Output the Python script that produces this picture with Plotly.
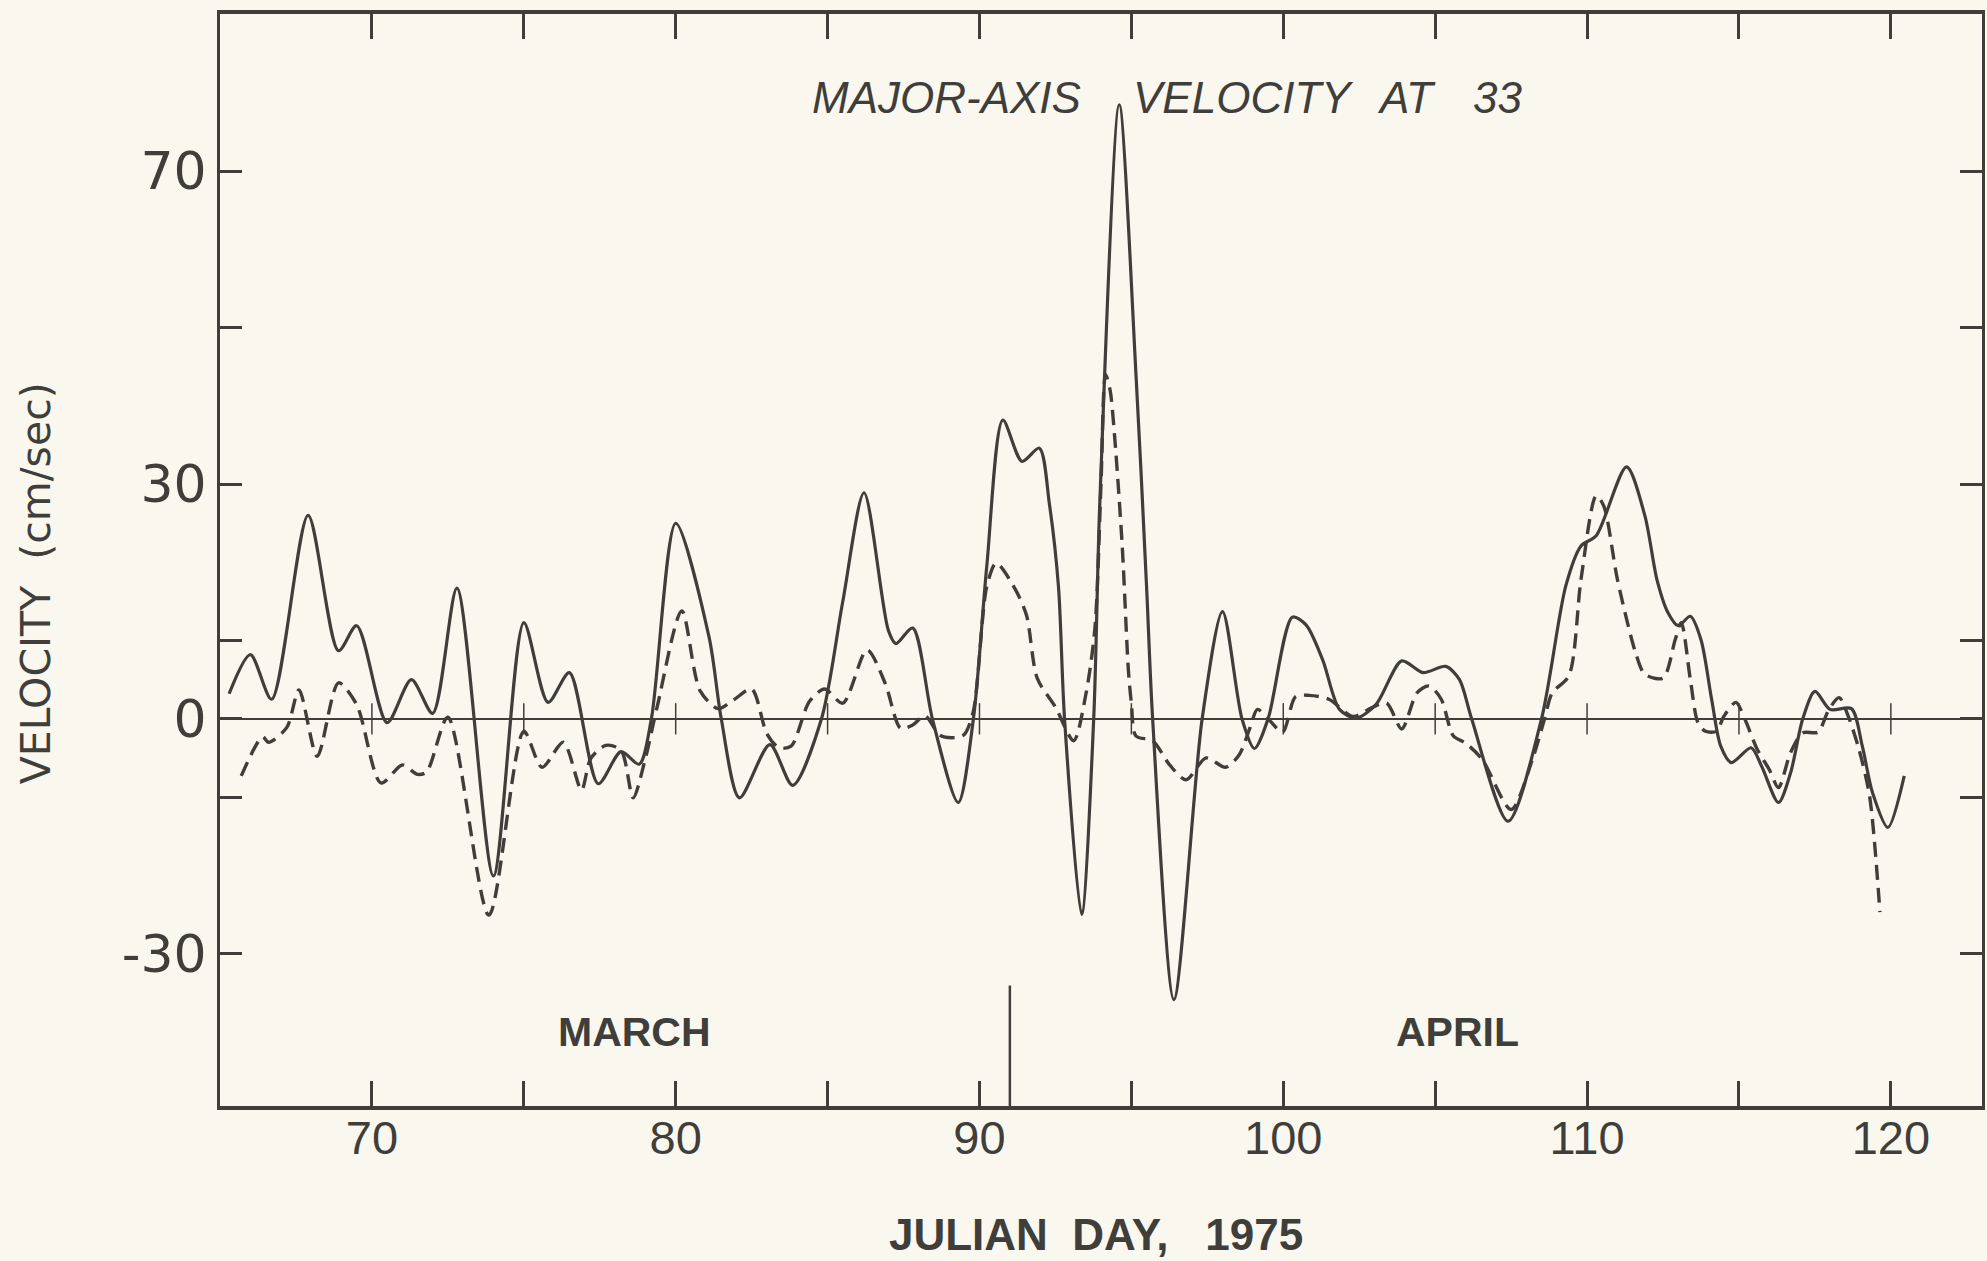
import plotly.graph_objects as go

# ---------------- data ----------------
solid_day = [65.3, 66.0, 66.7, 67.9, 68.9, 69.5, 70.5, 71.3, 72.0, 72.8, 74.0, 75.0, 75.8, 76.5,
             77.45, 78.2, 78.8, 79.2, 80.0, 81.1, 81.5, 82.1, 83.1, 83.85, 84.8, 85.5, 86.2, 87.0,
             87.25, 87.8, 88.45, 89.3, 89.8, 90.24, 90.77, 91.4, 91.97, 92.3, 92.6, 92.8, 93.36,
             93.76, 93.96, 94.6, 95.16, 95.5, 95.7, 96.4, 97.33, 98.0, 98.64, 99.05, 99.5, 100.3,
             100.75, 101.3, 101.85, 102.4, 103.05, 103.9, 104.6, 105.35, 105.8, 106.2, 107.4,
             108.5, 109.3, 109.8, 110.3, 111.3, 111.9, 112.3, 112.66, 113.0, 113.4, 113.75,
             114.1, 114.4, 114.75, 115.4, 115.75, 116.3, 116.7, 117.1, 117.5, 118.0, 118.7,
             119.06, 119.4, 119.9, 120.44]
solid_vel = [3.2, 8.2, 2.5, 26.0, 8.7, 11.9, -0.5, 5.0, 0.7, 16.7, -20.1, 12.3, 2.1, 5.9,
             -8.3, -4.2, -5.8, 0.0, 25.0, 10.4, 0.0, -10.1, -3.3, -8.5, 0.0, 15.0, 28.9, 11.3,
             9.6, 11.6, 0.0, -10.7, 0.0, 19.5, 38.2, 32.9, 34.6, 27.5, 16.9, 0.0, -25.0,
             0.0, 27.5, 78.5, 43.4, 16.9, 0.0, -35.9, 0.0, 13.7, 0.0, -3.8, 0.0, 13.0,
             12.0, 7.5, 1.2, 0.1, 1.8, 7.4, 5.9, 6.7, 5.0, 0.0, -13.1,
             0.0, 17.0, 22.1, 23.4, 32.2, 26.0, 17.8, 13.6, 11.9, 13.1, 10.1,
             2.5, -3.5, -5.6, -3.7, -6.1, -10.7, -6.9, 0.0, 3.5, 1.2, 1.3,
             -3.5, -9.5, -13.9, -7.3]

dashed_day = [65.7, 66.4, 66.6, 67.2, 67.6, 68.2, 68.9, 69.5, 70.3, 71.0, 71.5, 71.8, 72.5,
              73.85, 75.0, 75.6, 76.3, 76.9, 77.2, 77.7, 78.2, 78.6, 79.0, 79.4, 80.2, 80.8,
              81.4, 81.9, 82.5, 83.0, 83.4, 83.8, 84.4, 84.9, 85.5, 86.3, 86.9, 87.4, 87.8,
              88.2, 88.7, 89.2, 89.5, 89.8, 90.24, 90.55, 91.17, 91.55, 91.9, 92.5, 93.1,
              93.5, 93.8, 94.0, 94.15, 94.3, 94.45, 94.7, 94.9, 95.0, 95.15, 95.7, 96.26,
              96.8, 97.46, 98.1, 98.55, 98.9, 99.15, 99.5, 99.98, 100.4, 100.85, 101.5,
              102.3, 102.9, 103.4, 103.9, 104.4, 104.8, 105.2, 105.6, 106.0, 106.55, 107.5,
              108.2, 108.6, 108.85, 109.4, 109.8, 110.3, 110.55, 111.0, 111.6, 111.9, 112.5,
              112.9, 113.1, 113.4, 113.65, 113.9, 114.26, 114.5, 114.9, 115.2, 115.6, 116.0,
              116.3, 116.7, 117.1, 117.6, 117.96, 118.3, 118.6, 118.95, 119.3, 119.64]
dashed_vel = [-7.3, -2.3, -3.0, -1.1, 3.7, -4.8, 4.6, 1.8, -8.2, -5.9, -7.1, -6.8, 0.2,
              -25.1, -1.6, -6.2, -3.0, -9.1, -5.1, -3.4, -4.0, -10.1, -5.1, 1.7, 13.8, 3.6,
              1.3, 2.4, 3.8, -1.9, -3.7, -3.5, 2.2, 3.8, 2.0, 8.8, 4.5, -1.2, -0.8,
              0.4, -2.1, -2.4, -2.0, 1.0, 16.9, 19.9, 16.6, 13.2, 5.2, 1.5, -2.8,
              3.1, 11.6, 30.0, 44.0, 42.0, 36.0, 22.0, 6.3, 2.0, -2.2, -2.8, -5.9,
              -7.8, -5.0, -6.2, -4.6, -1.2, 1.2, 0.0, -1.7, 2.8, 3.0, 2.5,
              0.3, 1.4, 2.0, -1.3, 3.3, 4.2, 2.5, -2.2, -3.1, -5.2, -11.6,
              -5.2, 0.0, 3.3, 5.5, 17.8, 28.5, 27.2, 17.8, 8.4, 5.7, 5.2,
              10.1, 12.3, 5.0, -0.5, -1.6, -1.6, 0.3, 2.1, -0.1, -3.9, -6.5,
              -8.8, -4.3, -1.8, -1.7, 1.2, 2.7, 0.3, -3.9, -9.9, -24.7]

x_tick_days = [70, 75, 80, 85, 90, 95, 100, 105, 110, 115, 120]
x_tick_text = ["70", "", "80", "", "90", "", "100", "", "110", "", "120"]
y_tick_vals = [-30, -10, 0, 10, 30, 50, 70]
y_tick_text = ["-30", "", "0", "", "30", "", "70"]
zero_tick_days = [70, 75, 80, 85, 90, 95, 100, 105, 110, 115, 120]
month_boundary_day = 91
months = ["MARCH", "APRIL"]
month_label_days = [78.66, 105.72]

X_RANGE = [65, 123]
Y_RANGE = [-49.5, 90.1]

INK = "#403e3b"
BG = "#faf8ee"

fig = go.Figure()

fig.add_trace(go.Scatter(x=solid_day, y=solid_vel, mode="lines",
                         line=dict(color=INK, width=3.2, shape="spline", smoothing=0.8),
                         hoverinfo="skip"))
fig.add_trace(go.Scatter(x=dashed_day, y=dashed_vel, mode="lines",
                         line=dict(color=INK, width=3.4, shape="spline", smoothing=0.8,
                                   dash="15px,8px"),
                         hoverinfo="skip"))

# small day ticks across the zero line
zx, zy = [], []
for d in zero_tick_days:
    zx += [d, d, None]
    zy += [-2.0, 2.0, None]
fig.add_trace(go.Scatter(x=zx, y=zy, mode="lines", line=dict(color=INK, width=1.5),
                         hoverinfo="skip"))

# month boundary
fig.add_trace(go.Scatter(x=[month_boundary_day, month_boundary_day], y=[Y_RANGE[0], -34.1],
                         mode="lines", line=dict(color=INK, width=2.5), hoverinfo="skip"))

ann = []
for name, d in zip(months, month_label_days):
    ann.append(dict(x=d, y=-40.0, xref="x", yref="y", text=name, showarrow=False,
                    font=dict(family="Liberation Sans Narrow, Arial Narrow, Liberation Sans, sans-serif",
                              size=41, color=INK, weight="bold")))

title_words = ["MAJOR-AXIS", "VELOCITY", "AT", "33"]
title_days = [88.91, 98.67, 104.04, 107.06]
for w, d in zip(title_words, title_days):
    ann.append(dict(x=d, y=79.4, xref="x", yref="y", text=w, showarrow=False,
                    font=dict(family="Liberation Sans, Arial, sans-serif", size=44,
                              color=INK, style="italic", weight=500)))

ann.append(dict(x=93.82, y=-0.1175, xref="x", yref="paper", yanchor="middle",
                text="JULIAN\u00a0\u00a0DAY,\u00a0\u00a0 1975", showarrow=False,
                font=dict(family="Liberation Sans Narrow, Arial Narrow, Liberation Sans, sans-serif",
                          size=44, color=INK, weight="bold")))
ann.append(dict(x=-0.104, y=17.3, xref="paper", yref="y", xanchor="center",
                text="VELOCITY\u00a0\u00a0(cm/sec)", textangle=-90, showarrow=False,
                font=dict(family="DejaVu Sans, sans-serif", size=41, color=INK)))

fig.update_layout(
    width=1987, height=1261,
    margin=dict(l=220, r=2, t=14, b=155, pad=0),
    paper_bgcolor=BG, plot_bgcolor=BG,
    showlegend=False,
    annotations=ann,
    xaxis=dict(range=X_RANGE, tickvals=x_tick_days, ticktext=x_tick_text,
               ticks="inside", ticklen=25, tickwidth=2.5, tickcolor=INK,
               showline=True, linecolor=INK, linewidth=4, mirror="ticks",
               showgrid=False, zeroline=False, ticklabelstandoff=-12,
               tickfont=dict(family="Liberation Sans, Arial, sans-serif", size=47, color=INK)),
    yaxis=dict(range=Y_RANGE, tickvals=y_tick_vals, ticktext=y_tick_text,
               ticks="inside", ticklen=22, tickwidth=3, tickcolor=INK,
               showline=True, linecolor=INK, linewidth=3, mirror="ticks",
               showgrid=False, zeroline=True, zerolinecolor=INK, zerolinewidth=2,
               tickfont=dict(family="DejaVu Sans, sans-serif", size=52, color=INK)),
)

fig.write_html("out.html", config={"displayModeBar": False},
               post_script="document.body.style.margin='0';")
